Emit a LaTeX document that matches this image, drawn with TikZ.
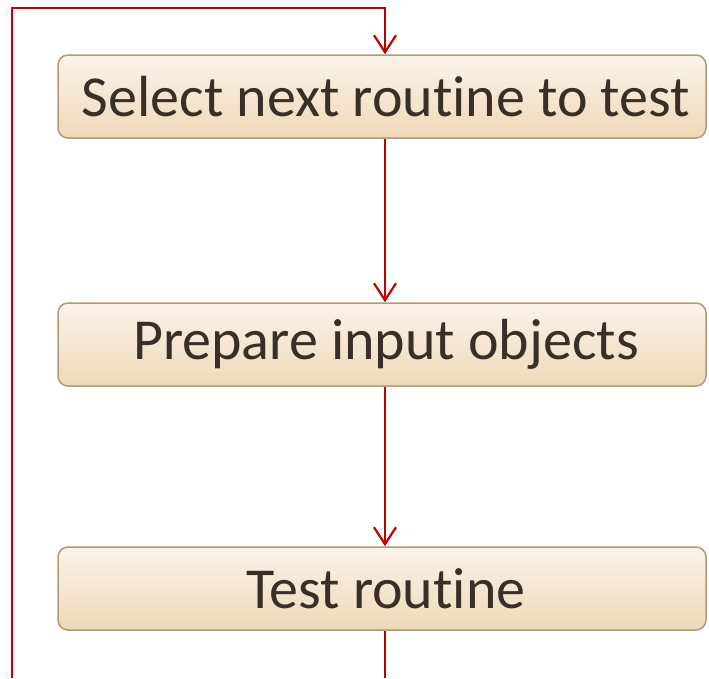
\documentclass[tikz,border=0pt]{standalone}
\usepackage{fontspec}
\setmainfont{Carlito}[Ligatures={NoCommon}]
\usetikzlibrary{arrows.meta}
\definecolor{loopred}{HTML}{C00000}
\definecolor{boxedge}{HTML}{B09A74}
\definecolor{boxtop}{HTML}{FCF3E9}
\definecolor{boxbot}{HTML}{EFD8B9}
\definecolor{boxtext}{HTML}{3A2F27}
\tikzset{
  stepnode/.style={draw=boxedge, line width=1.5pt, rounded corners=10pt,
    top color=boxtop, bottom color=boxbot, text=boxtext,
    minimum width=648pt, minimum height=83pt, inner sep=0pt,
    font=\fontsize{58}{68}\selectfont},
  flow/.style={draw=loopred, line width=2.4pt},
  flowarrow/.style={flow, -{Straight Barb[length=17pt,width=22pt,line width=2.2pt]}}
}
\begin{document}
\begin{tikzpicture}[x=1pt,y=1pt]
			%%%%% BOXES %%%%%
			\useasboundingbox (0,0) rectangle (709,-678);
			
			\node[stepnode] (select) at (382,-96.5) {\hspace*{8pt}Select next routine to test};
			\node[stepnode] (prepare) at (382,-344.5) {\hspace*{8pt}Prepare input objects};
			\node[stepnode] (testr) at (382,-588.5) {\hspace*{8pt}Test routine};
			
			%%%%% LOOP %%%%%
			\coordinate (loopout) at (385,-678);
			\coordinate (loopleft) at (12,-678);
			\coordinate (looptop) at (12,-8);
			
			\draw[flowarrow] ([xshift=3pt]select.south) -- ([xshift=3pt]prepare.north);
			\draw[flowarrow] ([xshift=3pt]prepare.south) -- ([xshift=3pt]testr.north);
			\draw[flow] ([xshift=3pt]testr.south) -- (loopout);
			\draw[flowarrow] (loopleft) -- (looptop) -| ([xshift=3pt]select.north);
			
			%%%%% END %%%%%
\end{tikzpicture}
\end{document}
